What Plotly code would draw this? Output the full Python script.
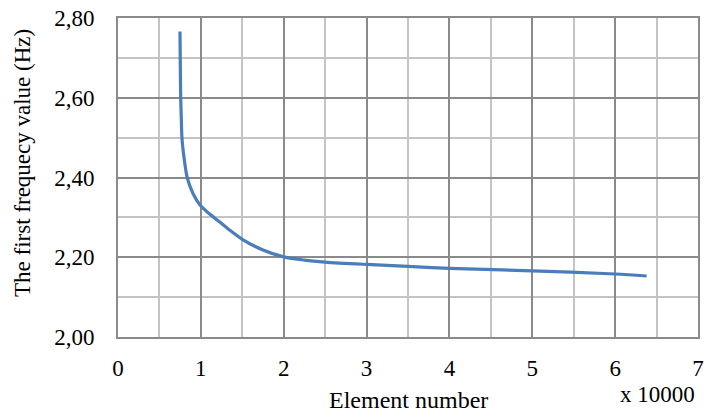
import plotly.graph_objects as go

element_number = [0.748, 0.752, 0.757, 0.765, 0.772, 0.80, 0.836, 0.905, 0.99, 1.08, 1.17, 1.33, 1.5, 1.75, 2.0, 2.25, 2.5, 3.0, 3.5, 4.0, 5.0, 6.0, 6.38]
first_frequency = [2.766, 2.68, 2.599, 2.54, 2.498, 2.445, 2.399, 2.36, 2.331, 2.313, 2.298, 2.271, 2.245, 2.218, 2.201, 2.193, 2.188, 2.182, 2.177, 2.172, 2.166, 2.158, 2.153]

x_ticks = [0, 1, 2, 3, 4, 5, 6, 7]
y_ticks = [2.0, 2.2, 2.4, 2.6, 2.8]

FONT = "Liberation Serif, Times New Roman, serif"
MAJOR = "#8a8a8a"
MINOR = "#c4c4c4"

L, R, T, B = 118, 698, 18, 337
PW, PH = R - L, B - T

fig = go.Figure()
fig.add_trace(go.Scatter(
    x=element_number, y=first_frequency, mode="lines",
    line=dict(color="#4a7ebb", width=3.2, shape="spline", smoothing=0.8),
    showlegend=False, hoverinfo="skip",
))

fig.update_layout(
    width=708, height=415,
    margin=dict(l=L, r=708 - R, t=T, b=415 - B, autoexpand=False),
    paper_bgcolor="white", plot_bgcolor="white",
    separators=", ",
    font=dict(family=FONT, size=23, color="black"),
    xaxis=dict(
        range=[0, 7], tickvals=x_ticks, ticks="", ticklabelstandoff=9,
        automargin=False,
        showgrid=True, gridcolor=MAJOR, gridwidth=1.6,
        minor=dict(dtick=0.5, showgrid=True, gridcolor=MINOR, gridwidth=1.6),
        showline=True, linecolor=MAJOR, linewidth=2, mirror=True,
        zeroline=False,
    ),
    yaxis=dict(
        range=[2.0, 2.8], tickvals=y_ticks, tickformat=".2f", ticks="", ticklabelstandoff=17,
        automargin=False,
        showgrid=True, gridcolor=MAJOR, gridwidth=1.6,
        minor=dict(dtick=0.1, showgrid=True, gridcolor=MINOR, gridwidth=1.6),
        showline=True, linecolor=MAJOR, linewidth=2, mirror=True,
        zeroline=False,
    ),
    annotations=[
        dict(text="The first frequecy value (Hz)", textangle=-90, xref="paper", yref="paper",
             x=(22 - L) / PW, y=(B - 163) / PH, xanchor="center", yanchor="middle",
             showarrow=False, font=dict(family=FONT, size=23)),
        dict(text="Element number", xref="paper", yref="paper",
             x=(408 - L) / PW, y=-(400 - B) / PH, xanchor="center", yanchor="middle",
             showarrow=False, font=dict(family=FONT, size=24)),
        dict(text="x 10000", xref="paper", yref="paper",
             x=(697 - L) / PW, y=-(394 - B) / PH, xanchor="right", yanchor="middle",
             showarrow=False, font=dict(family=FONT, size=23)),
    ],
)

fig.write_html("out.html", config={"displayModeBar": False},
               post_script="document.body.style.margin='0';document.body.style.overflow='hidden';")
